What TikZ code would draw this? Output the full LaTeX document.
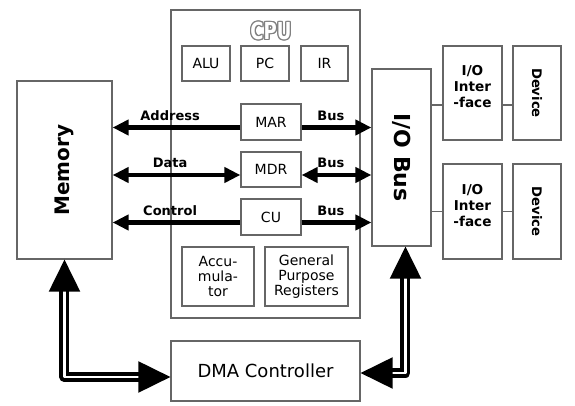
\documentclass[tikz,border=0pt]{standalone}
\usepackage{fontspec}
\setmainfont{DejaVu Sans}
\usepackage{tikz}
\usetikzlibrary{arrows.meta}
\tikzset{
	block/.style   = {shape=rectangle, draw=black!60, line width=0.6pt,
		inner sep=1pt, align=center},
	boxsize/.style 2 args = {minimum width=#1, minimum height=#2},
	reg/.style     = {block, font=\fontsize{7}{7.5}\selectfont},
	iotext/.style  = {align=center, yshift=3pt, font=\bfseries\fontsize{6.8}{8}\selectfont},
	bustag/.style  = {font=\bfseries\fontsize{6.5}{7}\selectfont, inner sep=1pt},
	cputag/.style  = {font=\bfseries\fontsize{9}{9}\selectfont},
	wire/.style    = {line width=2.2pt},
	link/.style    = {draw=black!60, line width=0.6pt},
	dmaline/.style = {double=white, double distance=1.2pt, line width=1.9pt, line join=round},
	dmatip/.style  = {-{Triangle[length=16pt,width=15.5pt]}, line width=1pt}
}

\begin{document}
\begin{tikzpicture}
[
x = 0.5pt, y = -0.5pt,
> = {Triangle[length=8pt,width=7.5pt]}
]
\useasboundingbox (0,0) rectangle (575,406);
% CPU and its registers
\node [block, boxsize={94.5pt}{154pt}] (cpu) at (265.5,164) {};
\foreach \a in {0,30,...,330}
	\node [cputag, text=black!50, shift={(\a:0.6pt)}] (cpu\a) at (271,31) {\scalebox{1}[1.3]{CPU}};
\node [cputag, text=white] (cputitle) at (271,31) {\scalebox{1}[1.3]{CPU}};
\node [reg, boxsize={24pt}{17.5pt}] (alu) at (206,63.5) {ALU};
\node [reg, boxsize={24pt}{17.5pt}] (pc) at (265,63.5) {PC};
\node [reg, boxsize={23.5pt}{17.5pt}] (ir) at (324.5,63.5) {IR};
\node [reg, boxsize={30pt}{18pt}] (mar) at (271,122) {MAR};
\node [reg, boxsize={30pt}{17.5pt}] (mdr) at (271,169.5) {MDR};
\node [reg, boxsize={30pt}{18pt}] (cu) at (271,217) {CU};
\node [reg, boxsize={36pt}{29.5pt}] (acc) at (218,276.5) {Accu-\\mula-\\tor};
\node [reg, boxsize={41.5pt}{29.5pt}] (gpr) at (306.5,276.5) {General\\Purpose\\Registers};
% memory, I/O side, DMA
\node [block, boxsize={47.5pt}{89pt},
	label={[rotate=90, font=\bfseries\fontsize{10}{10}\selectfont]center:Memory}] (mem) at (64.5,170) {};
\node [block, boxsize={29.5pt}{88.5pt},
	label={[rotate=-90, font=\bfseries\fontsize{11}{11}\selectfont]center:I/O Bus}] (iobus) at (401.5,157.5) {};
\node [block, boxsize={29.5pt}{47pt},
	label={[iotext]center:I/O\\Inter\\-face}] (if1) at (472.5,93) {};
\node [block, boxsize={24pt}{47pt},
	label={[rotate=-90, font=\bfseries\fontsize{6.6}{7}\selectfont]center:Device}] (dev1) at (537,93) {};
\node [block, boxsize={29.5pt}{47.5pt},
	label={[iotext]center:I/O\\Inter\\-face}] (if2) at (472.5,211.5) {};
\node [block, boxsize={24pt}{47.5pt},
	label={[rotate=-90, font=\bfseries\fontsize{6.6}{7}\selectfont]center:Device}] (dev2) at (537,211.5) {};
\node [block, boxsize={94.5pt}{30pt}, font=\fontsize{9}{9}\selectfont] (dma) at (265.5,371) {DMA Controller};

% system buses
\coordinate (ad) at ([yshift=-2.75pt]mar.west);
\coordinate (ab) at ([yshift=-2.75pt]mar.east);
\coordinate (dd) at ([yshift=-2.75pt]mdr.west);
\coordinate (db) at ([yshift=-2.75pt]mdr.east);
\coordinate (cd) at ([yshift=-2.75pt]cu.west);
\coordinate (cb) at ([yshift=-2.75pt]cu.east);
\draw [wire, ->] (ad) -- (ad -| mem.east) node [bustag, pos=0.55, above=1.5pt] {Address};
\draw [wire, ->] (ab) -- (ab -| iobus.west) node [bustag, pos=0.42, above=1.5pt] {Bus};
\draw [wire, <->] (dd) -- (dd -| mem.east) node [bustag, pos=0.55, above=1.5pt] {Data};
\draw [wire, <->] (db) -- (db -| iobus.west) node [bustag, pos=0.42, above=1.5pt] {Bus};
\draw [wire, ->] (cd) -- (cd -| mem.east) node [bustag, pos=0.55, above=1.5pt] {Control};
\draw [wire, ->] (cb) -- (cb -| iobus.west) node [bustag, pos=0.42, above=1.5pt] {Bus};

% I/O links
\coordinate (j1) at ([yshift=-6pt]if1.west);
\draw [link] (j1 -| iobus.east) -- (j1) (if1.east |- j1) -- (dev1.west |- j1);
\draw [link] (iobus.east |- if2.west) -- (if2.west) (if2.east) -- (dev2.west);

% DMA paths
\coordinate (dmain) at ([yshift=-3pt]dma.west);
\coordinate (dmaout) at ([yshift=-1pt]dma.east);
\coordinate (busin) at ([xshift=2pt]iobus.south);
\draw [dmaline] ([yshift=-15pt]mem.south) |- ([xshift=-15pt]dmain);
\draw [dmatip] ([yshift=-15pt]mem.south) -- (mem.south);
\draw [dmatip] ([xshift=-15pt]dmain) -- (dmain);
\draw [dmaline] ([xshift=15pt]dmaout) -| ([yshift=-15pt]busin);
\draw [dmatip] ([xshift=15pt]dmaout) -- (dmaout);
\draw [dmatip] ([yshift=-15pt]busin) -- (busin);
\end{tikzpicture}
\end{document}
